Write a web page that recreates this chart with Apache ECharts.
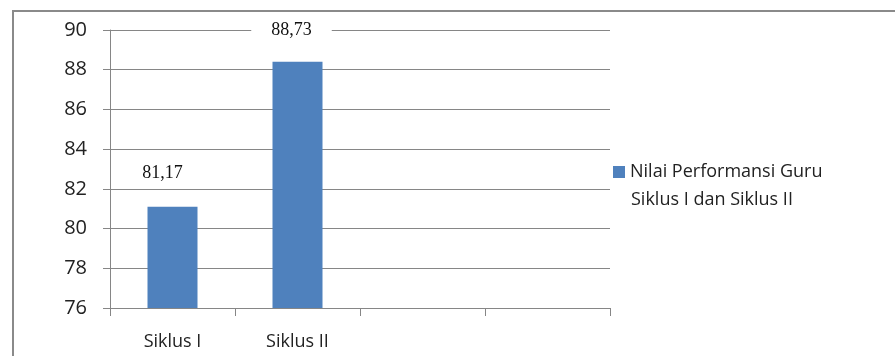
<!DOCTYPE html>
<html>
<head>
<meta charset="utf-8">
<script src="https://cdn.jsdelivr.net/npm/echarts@6/dist/echarts.min.js"></script>
<style>html,body{margin:0;padding:0;background:#fff}#c{width:895px;height:356px}</style>
</head>
<body>
<div id="c"></div>
<script>
var categories = ['Siklus I', 'Siklus II', '', ''];
var values = [81.1, 88.4, '-', '-'];
var valueLabels = ['81,17', '88,73', '', ''];
var seriesName = 'Nilai Performansi Guru Siklus I dan Siklus II';
var legendLines = ['Nilai Performansi Guru', 'Siklus I dan Siklus II'];
var yMin = 76, yMax = 90, yStep = 2;

var labelOffsets = [[-10, -16], [-6, -15]];
var data = values.map(function (v, i) {
  return {
    value: v,
    label: {
      show: v !== '-',
      formatter: valueLabels[i],
      offset: labelOffsets[i] || [0, 0]
    }
  };
});

var chart = echarts.init(document.getElementById('c'));
chart.setOption({
  animation: false,
  backgroundColor: '#fff',
  grid: { left: 110, right: 285, top: 30, bottom: 48, containLabel: false },
  graphic: [{
    type: 'rect',
    shape: { x: 13, y: 11, width: 1000, height: 500 },
    style: { fill: 'none', stroke: '#8a8a8a', lineWidth: 2 },
    silent: true
  }, {
    type: 'text',
    left: 631, top: 191,
    style: { text: legendLines[1], font: '18px "Open Sans"', fill: '#222' },
    silent: true
  }],
  legend: {
    orient: 'vertical',
    left: 608, top: 158,
    itemWidth: 12, itemHeight: 12,
    itemGap: 6,
    icon: 'rect',
    formatter: function () { return legendLines[0]; },
    textStyle: { fontFamily: 'Open Sans', fontSize: 18, color: '#222' },
    data: [seriesName]
  },
  xAxis: {
    type: 'category',
    data: categories,
    boundaryGap: true,
    axisLine: { show: true, lineStyle: { color: '#868686', width: 1 } },
    axisTick: { show: true, length: 8, alignWithLabel: false, interval: 0, lineStyle: { color: '#868686' } },
    axisLabel: { interval: 0, margin: 25, fontFamily: 'Open Sans', fontSize: 18, color: '#222' },
    splitLine: { show: false }
  },
  yAxis: {
    type: 'value',
    min: yMin, max: yMax, interval: yStep,
    axisLine: { show: true, lineStyle: { color: '#868686', width: 1 } },
    axisTick: { show: true, length: 7, lineStyle: { color: '#868686' } },
    axisLabel: { margin: 23, fontFamily: 'Open Sans', fontSize: 20, color: '#222' },
    splitLine: { show: true, lineStyle: { color: '#868686', width: 1 } }
  },
  series: [{
    name: seriesName,
    type: 'bar',
    barWidth: 50,
    itemStyle: { color: '#4F81BD' },
    label: {
      show: true,
      position: 'top',
      fontFamily: 'Liberation Serif',
      fontSize: 18,
      color: '#111',
      backgroundColor: '#fff',
      padding: [3, 20]
    },
    data: data
  }]
});
</script>
</body>
</html>
